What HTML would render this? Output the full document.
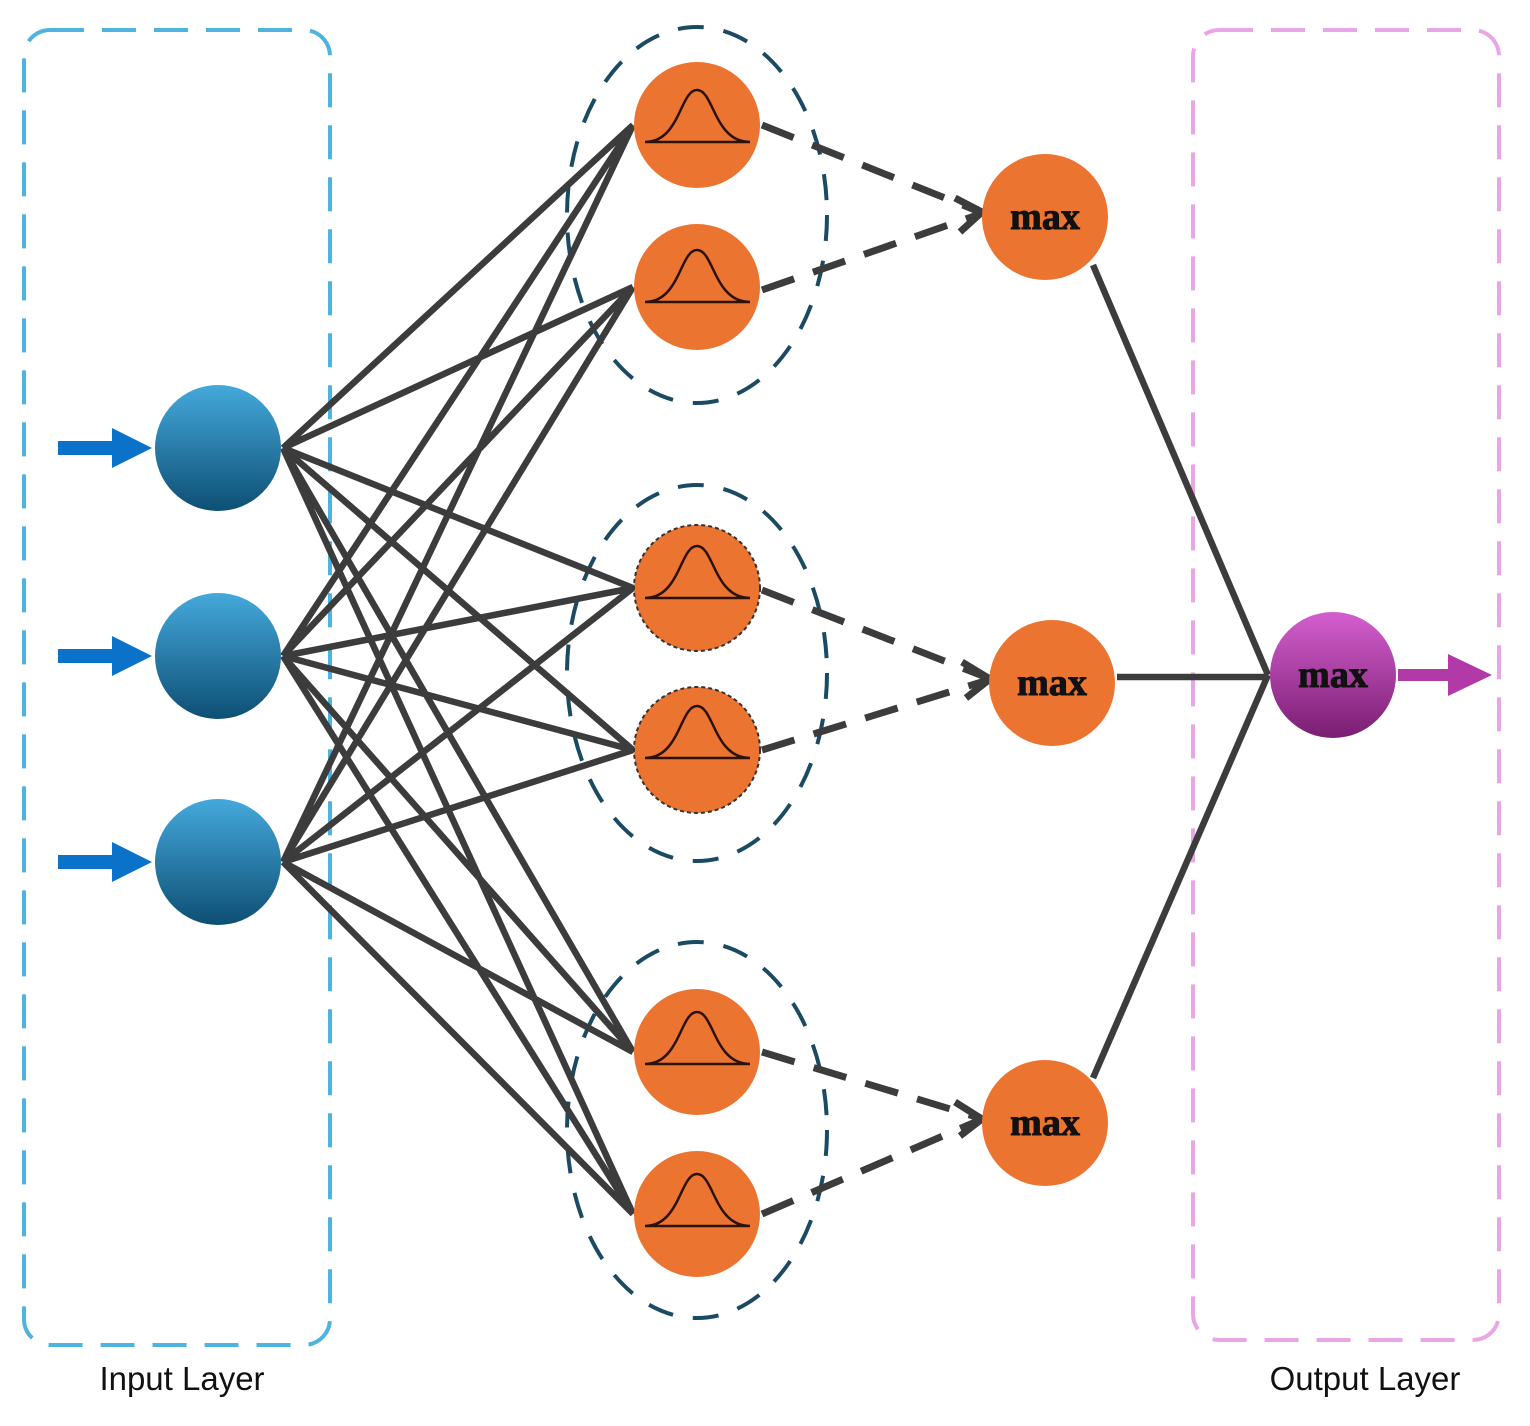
<!DOCTYPE html>
<html><head><style>body{margin:0;background:#fff}</style></head><body>
<svg width="1530" height="1421" viewBox="0 0 1530 1421" xmlns="http://www.w3.org/2000/svg">
<defs>
<linearGradient id="gb" x1="0" y1="0" x2="0" y2="1"><stop offset="0" stop-color="#45a9dc"/><stop offset="1" stop-color="#0d4f74"/></linearGradient>
<linearGradient id="gp" x1="0" y1="0" x2="0" y2="1"><stop offset="0" stop-color="#d45fcf"/><stop offset="1" stop-color="#7a1e72"/></linearGradient>
</defs>
<rect x="24" y="30" width="306" height="1315" rx="26" fill="none" stroke="#4fb3e0" stroke-width="4" stroke-dasharray="34,18"/>
<rect x="1193" y="30" width="306" height="1310" rx="26" fill="none" stroke="#e8a6e6" stroke-width="4" stroke-dasharray="34,18"/>
<g fill="none" stroke="#1b4a63" stroke-width="4" stroke-dasharray="26,20">
<ellipse cx="697" cy="215" rx="130" ry="188"/>
<ellipse cx="697" cy="673" rx="130" ry="188"/>
<ellipse cx="697" cy="1130" rx="130" ry="188"/>
</g>
<g stroke="#3c3c3c" stroke-width="6.5">
<path d="M283 448L633 125M283 448L633 287M283 448L633 588M283 448L633 750M283 448L633 1052M283 448L633 1214
M283 656L633 125M283 656L633 287M283 656L633 588M283 656L633 750M283 656L633 1052M283 656L633 1214
M283 862L633 125M283 862L633 287M283 862L633 588M283 862L633 750M283 862L633 1052M283 862L633 1214"/>
<path d="M1093 265L1268 675M1117 677L1268 677M1093 1078L1268 675"/>
</g>
<g stroke="#3c3c3c" stroke-width="7" fill="none" stroke-dasharray="34,20">
<path d="M762 125L980 212M762 290L980 214M762 590L988 678M762 750L988 680M762 1052L980 1118M762 1214L980 1120"/>
</g>
<g stroke="#3c3c3c" stroke-width="7" fill="none">
<path d="M955 198L982 212L960 232M962 662L990 679L966 698M955 1102L982 1119L960 1136"/>
</g>
<g fill="#0a72c8">
<path d="M58 441H112V428L152 448L112 468V455H58Z"/>
<path d="M58 649H112V636L152 656L112 676V663H58Z"/>
<path d="M58 855H112V842L152 862L112 882V869H58Z"/>
</g>
<g fill="url(#gb)">
<circle cx="218" cy="448" r="63"/><circle cx="218" cy="656" r="63"/><circle cx="218" cy="862" r="63"/>
</g>
<g fill="#ec7431">
<circle cx="697" cy="125" r="63"/><circle cx="697" cy="287" r="63"/>
<circle cx="697" cy="588" r="63" stroke="#333" stroke-width="2" stroke-dasharray="4,3"/>
<circle cx="697" cy="750" r="63" stroke="#333" stroke-width="2" stroke-dasharray="4,3"/>
<circle cx="697" cy="1052" r="63"/><circle cx="697" cy="1214" r="63"/>
<circle cx="1045" cy="217" r="63"/><circle cx="1052" cy="683" r="63"/><circle cx="1045" cy="1123" r="63"/>
</g>
<g fill="none" stroke="#2a1208" stroke-width="2.5">
<path id="g1" d="M645 142C680 142 680 90 697 90C714 90 714 142 750 142M645 142H750"/>
<use href="#g1" y="160"/><use href="#g1" y="456"/><use href="#g1" y="616"/><use href="#g1" y="922"/><use href="#g1" y="1084"/>
</g>
<circle cx="1333" cy="675" r="63" fill="url(#gp)"/>
<path d="M1398 669H1448V654L1492 675L1448 696V681H1398Z" fill="#b13aa8"/>
<g font-family="Liberation Serif, serif" font-weight="bold" font-size="38" text-anchor="middle" fill="#111" stroke="#111" stroke-width="1">
<text x="1045" y="229">max</text><text x="1052" y="695">max</text><text x="1045" y="1135">max</text>
<text x="1333" y="687">max</text>
</g>
<g font-family="Liberation Sans, sans-serif" font-size="33" text-anchor="middle" fill="#111">
<text x="182" y="1390">Input Layer</text><text x="1365" y="1390">Output Layer</text>
</g>
</svg>
</body></html>
